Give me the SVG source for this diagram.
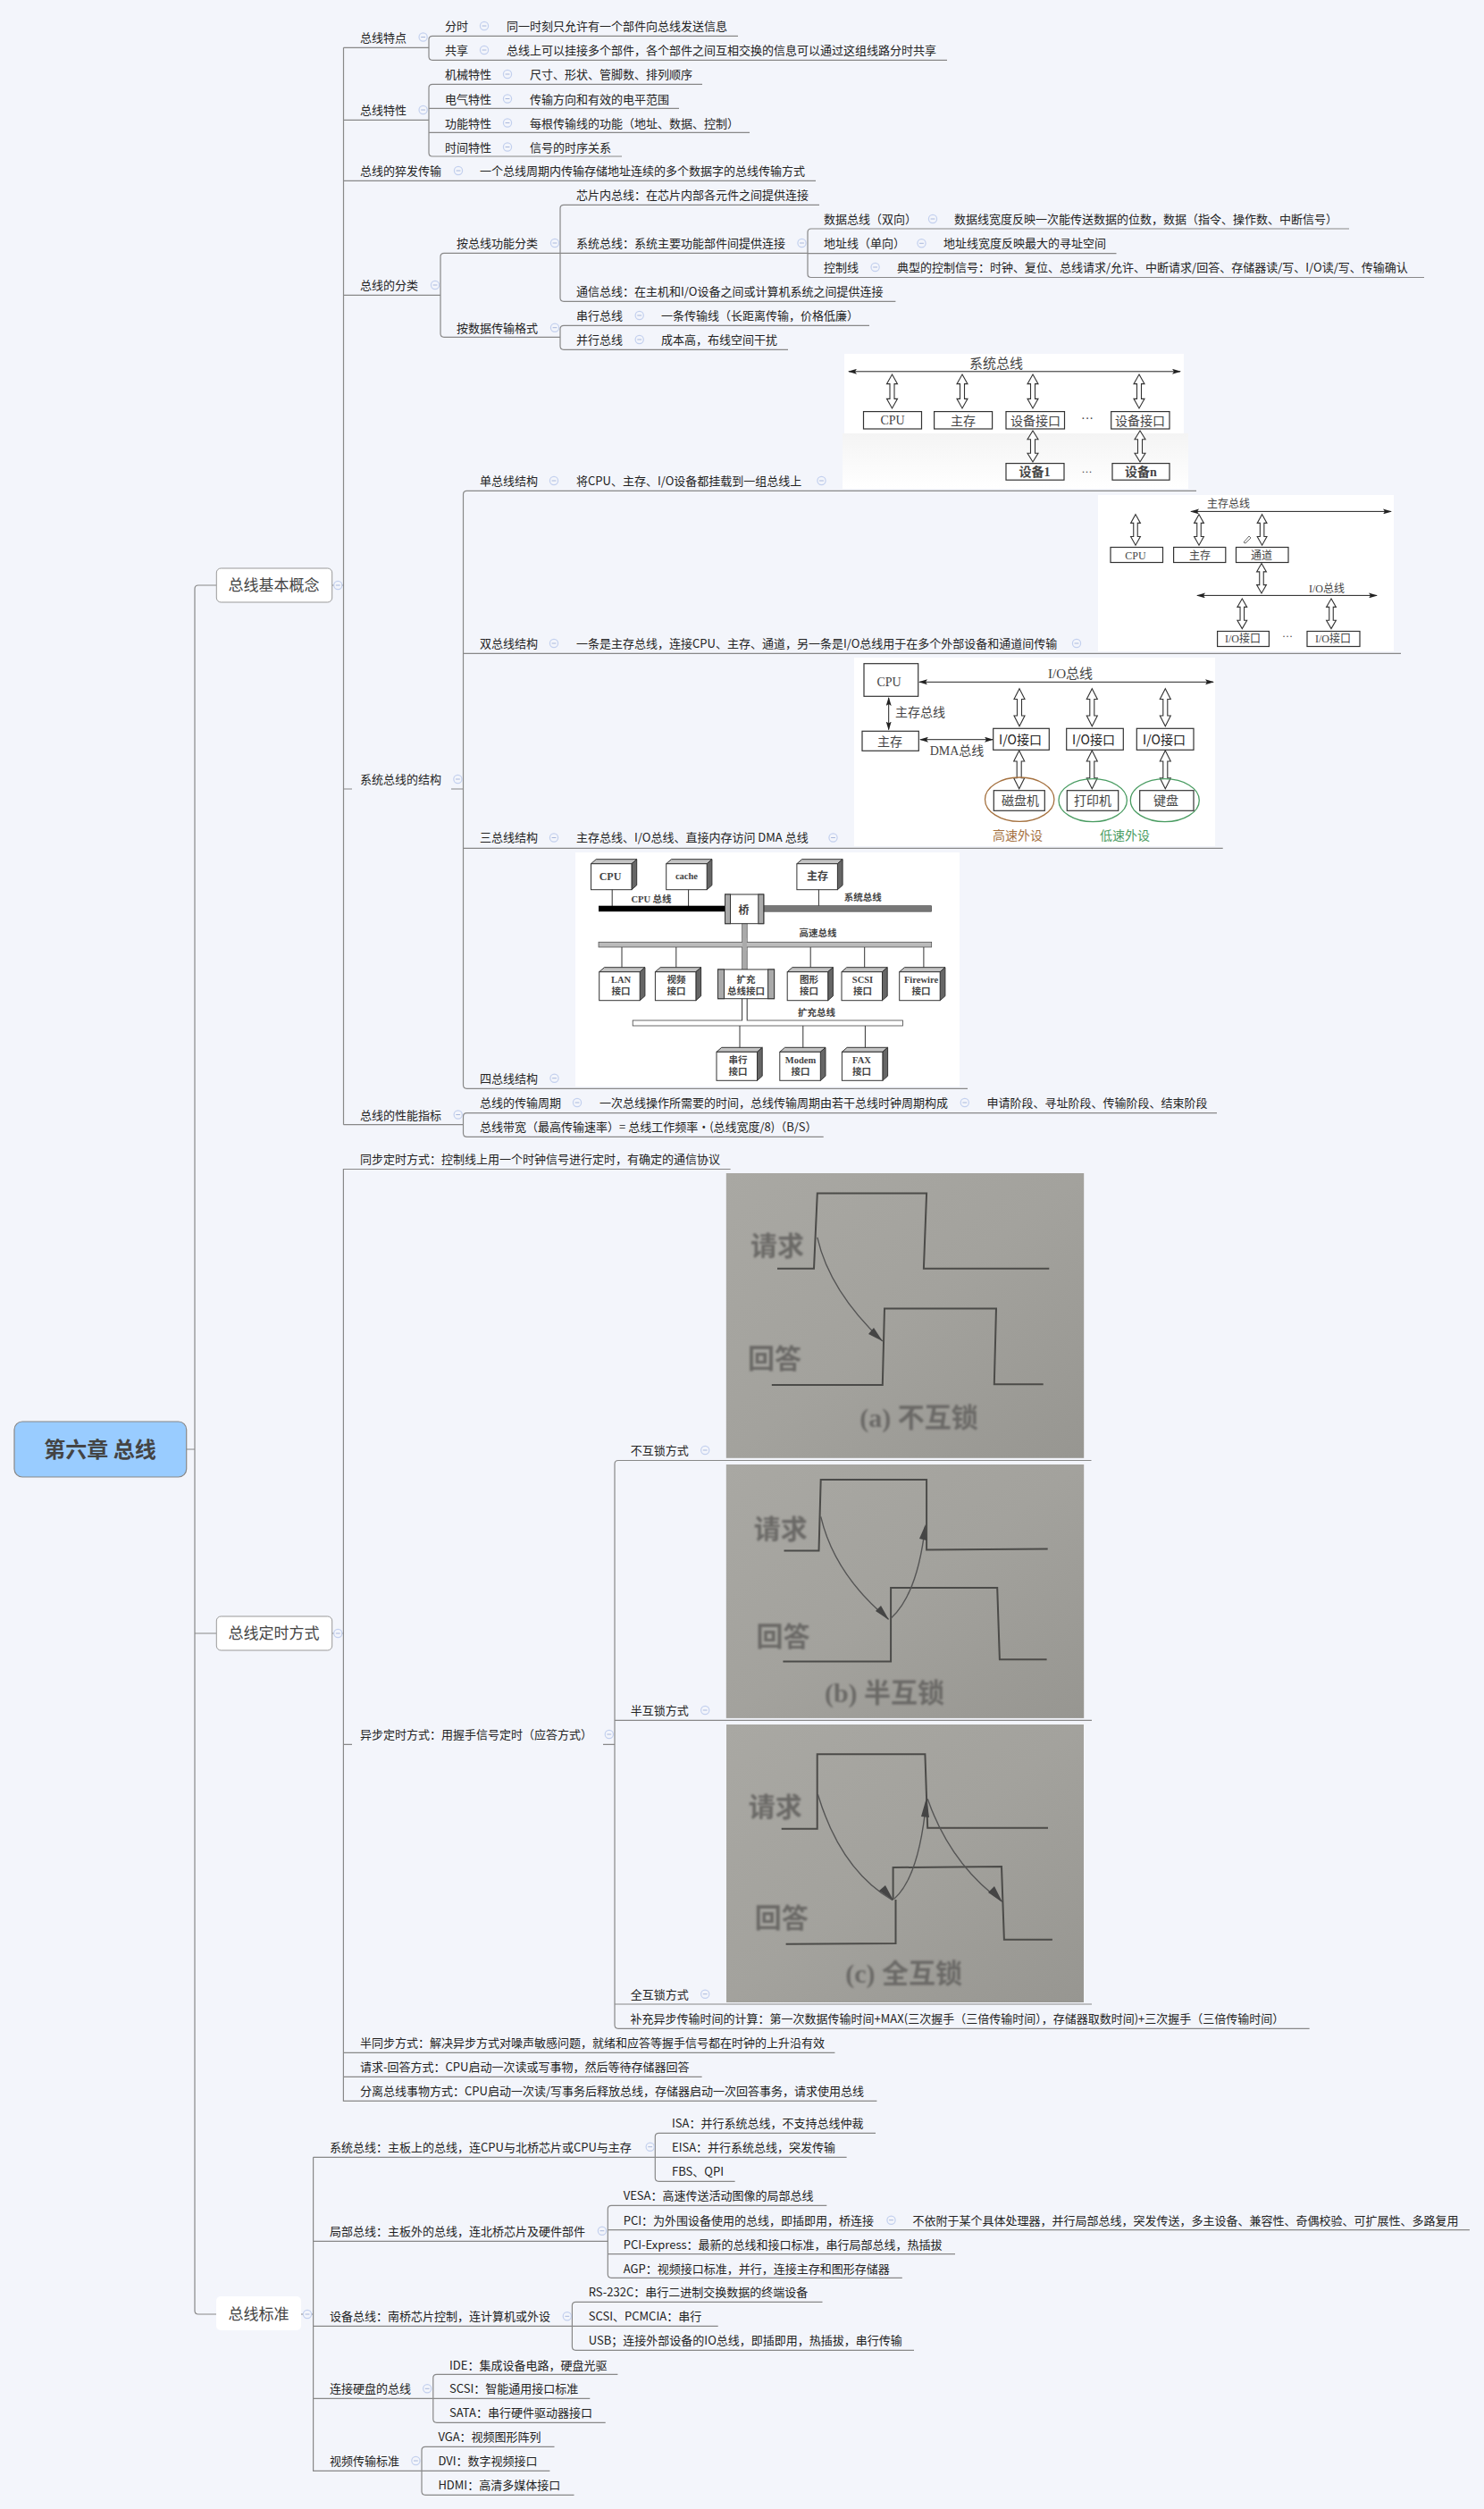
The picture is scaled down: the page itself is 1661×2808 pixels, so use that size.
<svg xmlns="http://www.w3.org/2000/svg" width="1661" height="2808" viewBox="0 0 1661 2808">
<style>
text{font-family:"Noto Sans CJK SC",sans-serif;font-size:13px;fill:#222}
.l1{font-size:17px;fill:#444;text-anchor:middle}
.root{font-size:24px;font-weight:700;fill:#444;text-anchor:middle}
.cn{fill:none;stroke:#888;stroke-width:1.2}
.box{fill:#fff;stroke:#999;stroke-width:1}
.ib{fill:#fff;stroke:#333;stroke-width:1.2}
.il{stroke:#222;stroke-width:1;fill:none}
.dbl{fill:#fff;stroke:#333;stroke-width:1.1;vector-effect:non-scaling-stroke}
.s{font-family:"Liberation Serif","Noto Sans CJK SC",serif;fill:#444;text-anchor:middle}
.s12{font-size:12px}.s14{font-size:14px}.s15{font-size:15px}.s10{font-size:10.5px;font-weight:700}
.ph{fill:none;stroke:#4c4b48;stroke-width:2}
.pc{fill:none;stroke:#555;stroke-width:1.4}
.pt{font-family:"Liberation Serif","Noto Sans CJK SC",serif;font-size:30px;fill:#6a6966;text-anchor:middle;font-weight:700}
.ah{fill:#444}
</style>
<defs>
<g id="col"><circle r="4.6" fill="#f3f5fb" stroke="#c3d0ee" stroke-width="1.2"/><path d="M-2.4 0H2.4" stroke="#a9b8dc" stroke-width="1"/></g>
<path id="dbl" class="dbl" d="M0,0L6,.28H2.5V.72H6L0,1L-6,.72H-2.5V.28H-6Z"/>
<marker id="ar" viewBox="0 0 10 6" refX="9" refY="3" markerWidth="10" markerHeight="6" orient="auto-start-reverse" markerUnits="userSpaceOnUse"><path d="M0 0L10 3L0 6L2 3Z" fill="#222"/></marker>
<g id="bx3a"><path d="M0 0L5.7-5H51.2L45.5 0Z" fill="#c4c4c4" stroke="#333"/><path d="M45.5 0L51.2-5V24L45.5 29Z" fill="#666" stroke="#333"/><rect width="45.5" height="29" fill="#fff" stroke="#333"/></g>
<g id="bx3b"><path d="M0 0L5.7-5H51.2L45.5 0Z" fill="#c4c4c4" stroke="#333"/><path d="M45.5 0L51.2-5V27L45.5 32Z" fill="#666" stroke="#333"/><rect width="45.5" height="32" fill="#fff" stroke="#333"/></g>
<linearGradient id="pg" x1="0" y1="0" x2="1" y2="1"><stop offset="0" stop-color="#a9a8a3"/><stop offset=".5" stop-color="#a3a29d"/><stop offset="1" stop-color="#979691"/></linearGradient>
<linearGradient id="lg" x1="0" y1="0" x2="0" y2="1"><stop offset="0" stop-color="#f4f4f4"/><stop offset="1" stop-color="#fff"/></linearGradient>
<filter id="b1" x="-5%" y="-5%" width="110%" height="110%"><feGaussianBlur stdDeviation=".8"/></filter>
<filter id="b0" x="-5%" y="-5%" width="110%" height="110%"><feGaussianBlur stdDeviation=".35"/></filter>
</defs>
<rect width="1661" height="2808" fill="#f3f5fb"/>

<g id="connectors" class="cn">
<path d="M208.7 1622H218M242 655H222Q218 655 218 659V2586Q218 2590 222 2590H242M218 1828H242"/>
<path d="M372 655H384.5M372 1828H384.5M337 2590H350.6"/>
<path d="M384.5 53.3V1258.7M384.5 53.3H480M384.5 134.3H480M384.5 202.3H913M384.5 330.3H493M384.5 883H394M505 883H518.5M384.5 1258.7H518.5"/>
<path d="M826 40.3H484Q480 40.3 480 44.3V63.3Q480 67.3 484 67.3H1060"/>
<path d="M786 94.3H484Q480 94.3 480 98.3V171Q480 175 484 175H696M480 121.3H760M480 148.3H839"/>
<path d="M627 283.3H497Q493 283.3 493 287.3V373.3Q493 377.3 497 377.3H627"/>
<path d="M917 229.3H631Q627 229.3 627 233.3V333.3Q627 337.3 631 337.3H1002.4M627 283.3H904"/>
<path d="M1510 256H908Q904 256 904 260V306.5Q904 310.5 908 310.5H1594M904 283.6H1249.5"/>
<path d="M973 364.3H631Q627 364.3 627 368.3V387.3Q627 391.3 631 391.3H882"/>
<path d="M1339 549.3H522.5Q518.5 549.3 518.5 553.3V1214.3Q518.5 1218.3 522.5 1218.3H1083M518.5 731.4H1568M518.5 949.3H1368.7"/>
<path d="M1362 1245.7H522.5Q518.5 1245.7 518.5 1249.7V1268.3Q518.5 1272.3 522.5 1272.3H921.7"/>
<path d="M817.6 1308.5H384.4V2351.3H981.4M384.4 1952.3H394M675 1952.3H688M384.4 2297.3H934.4M384.4 2324.3H785.6"/>
<path d="M1221.5 1634.5H692Q688 1634.5 688 1638.5V2266.3Q688 2270.3 692 2270.3H1465.6M688 1925.4H1222M688 2243H1222"/>
<path d="M350.6 2414.3V2765.3H472M350.6 2414.3H733.3M350.6 2508.3H680.3M350.6 2603.3H640.4M350.6 2684.3H484.8"/>
<path d="M980 2387.3H737.3Q733.3 2387.3 733.3 2391.3V2437.3Q733.3 2441.3 737.3 2441.3H822.6M733.3 2414.3H947.6"/>
<path d="M925.3 2468.3H684.3Q680.3 2468.3 680.3 2472.3V2545.3Q680.3 2549.3 684.3 2549.3H1009.8M680.3 2495.7H1644.9M680.3 2522.7H1069"/>
<path d="M920.5 2576.3H644.4Q640.4 2576.3 640.4 2580.3V2626.3Q640.4 2630.3 644.4 2630.3H1023M640.4 2603.3H803.7"/>
<path d="M691.4 2657.3H488.8Q484.8 2657.3 484.8 2661.3V2707.3Q484.8 2711.3 488.8 2711.3H677.7M484.8 2684.3H660.3"/>
<path d="M620.5 2738.3H476Q472 2738.3 472 2742.3V2788.3Q472 2792.3 476 2792.3H642.5M472 2765.3H615.4"/>
</g>

<g id="root"><rect x="16" y="1591" width="192.7" height="62" rx="9" fill="#99ccff" stroke="#888" stroke-width="1.2"/><text class="root" x="112" y="1630.5">第六章 总线</text></g>
<g id="n-basic"><rect class="box" x="242.3" y="636" width="129.4" height="38" rx="5"/><text class="l1" x="306.6" y="661">总线基本概念</text><use href="#col" x="378.3" y="655"/></g>
<g id="n-timing"><rect class="box" x="242.3" y="1809" width="129.4" height="38" rx="5"/><text class="l1" x="306.6" y="1834">总线定时方式</text><use href="#col" x="378.3" y="1828"/></g>
<g id="n-std"><rect x="242" y="2570" width="95" height="38" rx="5" fill="#fff"/><text class="l1" x="289.4" y="2596">总线标准</text><use href="#col" x="344" y="2590"/></g>

<g id="n-features"><text x="403" y="46.7">总线特点</text><use href="#col" x="473.6" y="41.5"/></g>
<g id="n-ts"><text x="498" y="34">分时</text><use href="#col" x="542" y="29"/><text x="567" y="34">同一时刻只允许有一个部件向总线发送信息</text></g>
<g id="n-share"><text x="498" y="61">共享</text><use href="#col" x="542" y="56"/><text x="567" y="61">总线上可以挂接多个部件，各个部件之间互相交换的信息可以通过这组线路分时共享</text></g>
<g id="n-props"><text x="403" y="128">总线特性</text><use href="#col" x="473.6" y="123"/></g>
<g id="n-mech"><text x="498" y="88">机械特性</text><use href="#col" x="568" y="83"/><text x="593" y="88">尺寸、形状、管脚数、排列顺序</text></g>
<g id="n-elec"><text x="498" y="115.5">电气特性</text><use href="#col" x="568" y="110.5"/><text x="593" y="115.5">传输方向和有效的电平范围</text></g>
<g id="n-func"><text x="498" y="142.5">功能特性</text><use href="#col" x="568" y="137.5"/><text x="593" y="142.5">每根传输线的功能（地址、数据、控制）</text></g>
<g id="n-time"><text x="498" y="169.5">时间特性</text><use href="#col" x="568" y="164.5"/><text x="593" y="169.5">信号的时序关系</text></g>
<g id="n-burst"><text x="403" y="196">总线的猝发传输</text><use href="#col" x="513" y="191"/><text x="537" y="196">一个总线周期内传输存储地址连续的多个数据字的总线传输方式</text></g>
<g id="n-class"><text x="403" y="324">总线的分类</text><use href="#col" x="487" y="319"/></g>
<g id="n-byfunc"><text x="511" y="277">按总线功能分类</text><use href="#col" x="621" y="272"/></g>
<g id="n-chip"><text x="645" y="223">芯片内总线：在芯片内部各元件之间提供连接</text></g>
<g id="n-sysb"><text x="645" y="277">系统总线：系统主要功能部件间提供连接</text><use href="#col" x="897.5" y="272"/></g>
<g id="n-data"><text x="922" y="250">数据总线（双向）</text><use href="#col" x="1044" y="245"/><text x="1068" y="250">数据线宽度反映一次能传送数据的位数，数据（指令、操作数、中断信号）</text></g>
<g id="n-addr"><text x="922" y="277.3">地址线（单向）</text><use href="#col" x="1031.5" y="272.3"/><text x="1056" y="277.3">地址线宽度反映最大的寻址空间</text></g>
<g id="n-ctrl"><text x="922" y="304">控制线</text><use href="#col" x="979.6" y="299"/><text x="1004" y="304">典型的控制信号：时钟、复位、总线请求/允许、中断请求/回答、存储器读/写、I/O读/写、传输确认</text></g>
<g id="n-comm"><text x="645" y="331">通信总线：在主机和I/O设备之间或计算机系统之间提供连接</text></g>
<g id="n-byfmt"><text x="511" y="371.7">按数据传输格式</text><use href="#col" x="621" y="366.7"/></g>
<g id="n-serial"><text x="645" y="358">串行总线</text><use href="#col" x="715.7" y="353"/><text x="740" y="358">一条传输线（长距离传输，价格低廉）</text></g>
<g id="n-par"><text x="645" y="385">并行总线</text><use href="#col" x="715.7" y="380"/><text x="740" y="385">成本高，布线空间干扰</text></g>
<g id="n-struct"><text x="403" y="877">系统总线的结构</text><use href="#col" x="512.4" y="872"/></g>

<g id="img-single">
<rect x="943" y="485" width="387" height="62" fill="url(#lg)"/><rect x="945" y="396" width="380" height="89" fill="#fff"/>
<path class="il" d="M950 415.8H1321" marker-start="url(#ar)" marker-end="url(#ar)"/>
<text class="s s15" x="1115" y="412">系统总线</text>
<use href="#dbl" transform="translate(998.5 419) scale(1 38)"/><use href="#dbl" transform="translate(1077 419) scale(1 38)"/><use href="#dbl" transform="translate(1156 419) scale(1 38)"/><use href="#dbl" transform="translate(1275 419) scale(1 38)"/>
<rect class="ib" x="966.5" y="460.6" width="65" height="19.4"/><text class="s s14" x="999" y="475">CPU</text>
<rect class="ib" x="1045.6" y="460.6" width="65" height="19.4"/><text class="s s14" x="1078" y="475.5">主存</text>
<rect class="ib" x="1126" y="460.6" width="65.5" height="19.4"/><text class="s s14" x="1159" y="475.5">设备接口</text>
<rect class="ib" x="1243.7" y="460.6" width="65.3" height="19.4"/><text class="s s14" x="1276" y="475.5">设备接口</text>
<text class="s s14" x="1217" y="473">···</text>
<use href="#dbl" transform="translate(1156 482) scale(1 35)"/><use href="#dbl" transform="translate(1276 482) scale(1 35)"/>
<rect class="ib" x="1126" y="518.6" width="65" height="18.6"/><text class="s s14" x="1158" y="533" font-weight="700">设备1</text>
<rect class="ib" x="1245" y="518.6" width="64" height="18.6"/><text class="s s14" x="1277" y="533" font-weight="700">设备n</text>
<text class="s s12" x="1216.5" y="532">···</text>
</g>
<g id="n-single"><text x="537" y="543">单总线结构</text><use href="#col" x="620" y="538"/><text x="645" y="543">将CPU、主存、I/O设备都挂载到一组总线上</text><use href="#col" x="919.5" y="538"/></g>

<g id="img-dual">
<rect x="1229" y="554" width="331" height="175" fill="#fff"/>
<path class="il" d="M1333 572.4H1557" marker-start="url(#ar)" marker-end="url(#ar)"/>
<text class="s s12" x="1375" y="568">主存总线</text>
<use href="#dbl" transform="translate(1271 575.7) scale(.9 34.5)"/><use href="#dbl" transform="translate(1342 575.7) scale(.9 34.5)"/><use href="#dbl" transform="translate(1412.6 575.7) scale(.9 34.5)"/>
<rect class="ib" x="1243" y="612.5" width="58.5" height="17"/><text class="s s12" x="1271" y="625.5">CPU</text>
<rect class="ib" x="1313.6" y="612.5" width="58.2" height="17"/><text class="s s12" x="1343" y="625.5">主存</text>
<rect class="ib" x="1383.5" y="612.5" width="58.5" height="17"/><text class="s s12" x="1412" y="625.5">通道</text>
<path d="M1392 607L1398 600L1400 602L1394 608Z" fill="#fff" stroke="#444" stroke-width=".8"/>
<use href="#dbl" transform="translate(1412 630.5) scale(.9 33.5)"/>
<path class="il" d="M1340 666.4H1541" marker-start="url(#ar)" marker-end="url(#ar)"/>
<text class="s s12" x="1485" y="663">I/O总线</text>
<use href="#dbl" transform="translate(1390.3 670) scale(.9 33.6)"/><use href="#dbl" transform="translate(1490 670) scale(.9 33.6)"/>
<rect class="ib" x="1362.6" y="706.5" width="57.8" height="17"/><text class="s s12" x="1391" y="719">I/O接口</text>
<rect class="ib" x="1463" y="706.5" width="59" height="17"/><text class="s s12" x="1492" y="719">I/O接口</text>
<text class="s s12" x="1441" y="716">···</text>
</g>
<g id="n-dual"><text x="537" y="725">双总线结构</text><use href="#col" x="620" y="720"/><text x="645" y="725">一条是主存总线，连接CPU、主存、通道，另一条是I/O总线用于在多个外部设备和通道间传输</text><use href="#col" x="1205" y="720"/></g>

<g id="img-triple">
<rect x="956" y="736" width="404" height="211" fill="#fff"/>
<rect class="ib" x="967" y="742.7" width="60.7" height="36.6"/><text class="s s14" x="995" y="767.5">CPU</text>
<path class="il" d="M1029 763.3H1358" marker-start="url(#ar)" marker-end="url(#ar)"/>
<text class="s s15" x="1198" y="759">I/O总线</text>
<path class="il" d="M994.7 781V816.5" marker-start="url(#ar)" marker-end="url(#ar)"/>
<text class="s s14" x="1030" y="802">主存总线</text>
<rect class="ib" x="965" y="818.3" width="63.3" height="22"/><text class="s s14" x="996" y="834.5">主存</text>
<path class="il" d="M1030 827.7H1111" marker-start="url(#ar)" marker-end="url(#ar)"/>
<text class="s s14" x="1071" y="845">DMA总线</text>
<rect class="ib" x="1111.7" y="815.3" width="62.6" height="24"/><text class="s s14" x="1142" y="832.5" style="font-family:'Noto Sans CJK SC',sans-serif;fill:#222">I/O接口</text>
<rect class="ib" x="1193.7" y="815.3" width="63.6" height="24"/><text class="s s14" x="1224" y="832.5" style="font-family:'Noto Sans CJK SC',sans-serif;fill:#222">I/O接口</text>
<rect class="ib" x="1272.3" y="815.3" width="63.7" height="24"/><text class="s s14" x="1303" y="832.5" style="font-family:'Noto Sans CJK SC',sans-serif;fill:#222">I/O接口</text>
<use href="#dbl" transform="translate(1141 770.7) scale(1 42)"/><use href="#dbl" transform="translate(1222.3 770.7) scale(1 42)"/><use href="#dbl" transform="translate(1304.3 770.7) scale(1 42)"/>
<use href="#dbl" transform="translate(1140.7 840) scale(1 42.7)"/><use href="#dbl" transform="translate(1222.3 840) scale(1 42.7)"/><use href="#dbl" transform="translate(1304.3 840) scale(1 42.7)"/>
<ellipse cx="1141.2" cy="894.7" rx="38.7" ry="24.7" fill="none" stroke="#a5713f" stroke-width="1.3"/>
<ellipse cx="1223.2" cy="895.7" rx="38.2" ry="24" fill="none" stroke="#4a9c62" stroke-width="1.3"/>
<ellipse cx="1303.8" cy="895.7" rx="38.5" ry="24" fill="none" stroke="#4a9c62" stroke-width="1.3"/>
<rect class="ib" x="1112.3" y="884.7" width="57" height="22.6"/><text class="s s14" x="1142" y="901">磁盘机</text>
<rect class="ib" x="1194.3" y="884.7" width="57.4" height="22.6"/><text class="s s14" x="1223" y="901">打印机</text>
<rect class="ib" x="1275.7" y="884.7" width="60.3" height="22.6"/><text class="s s14" x="1305" y="901">键盘</text>
<text class="s s14" x="1139" y="939.5" style="fill:#a5713f">高速外设</text>
<text class="s s14" x="1259" y="939.5" style="fill:#4a9c62">低速外设</text>
</g>
<g id="n-triple"><text x="537" y="942">三总线结构</text><use href="#col" x="620" y="937.5"/><text x="645" y="942">主存总线、I/O总线、直接内存访问 DMA 总线</text><use href="#col" x="932.5" y="937.5"/></g>

<g id="img-quad">
<rect x="644" y="954" width="430" height="262" fill="#fff"/>
<use href="#bx3a" x="661.5" y="966.7"/><use href="#bx3a" x="745.7" y="966.7"/><use href="#bx3a" x="891.9" y="966.7"/>
<text class="s s12" x="683" y="985" font-weight="700">CPU</text><text class="s s10" x="768.5" y="984">cache</text><text class="s s12" x="915" y="985" font-weight="700">主存</text>
<path d="M685.2 995.7V1014M770.6 995.7V1014M916.4 995.7V1014M696 1060V1083M756.8 1060V1083M907.2 1060V1083M967.7 1060V1083M1033.9 1060V1083M828 1148V1173M898.8 1148V1173M968.4 1148V1173" stroke="#333" fill="none"/>
<text class="s s10" x="729" y="1010">CPU 总线</text><text class="s s10" x="965.7" y="1008">系统总线</text><text class="s s10" x="915.6" y="1048">高速总线</text><text class="s s10" x="914" y="1137">扩充总线</text>
<rect x="670" y="1013.7" width="142" height="6.5" fill="#000"/>
<rect x="854.8" y="1013.7" width="187.9" height="6.5" fill="#777" stroke="#444" stroke-width=".6"/>
<rect x="830.6" y="1033.7" width="5.6" height="52" fill="#aaa" stroke="#444" stroke-width=".6"/>
<rect x="670" y="1054.3" width="372.7" height="5.7" fill="#bbb" stroke="#444" stroke-width=".7"/>
<rect x="830.9" y="1050" width="5" height="14" fill="#aaa"/>
<rect x="811.5" y="1001" width="43.3" height="32.7" fill="#fff" stroke="#333"/><rect x="811.5" y="1001" width="6" height="32.7" fill="#aaa" stroke="#333"/><rect x="848.8" y="1001" width="6" height="32.7" fill="#aaa" stroke="#333"/>
<text class="s s12" x="832.5" y="1023" font-weight="700">桥</text>
<use href="#bx3b" x="670.7" y="1087.7"/><use href="#bx3b" x="733.4" y="1087.7"/><use href="#bx3b" x="881.2" y="1087.7"/><use href="#bx3b" x="942" y="1087.7"/><use href="#bx3b" x="1006.7" y="1087.7"/>
<rect x="803.5" y="1085" width="63.1" height="32.7" fill="#fff" stroke="#333"/><rect x="803.5" y="1085" width="7" height="32.7" fill="#aaa" stroke="#333"/><rect x="859.6" y="1085" width="7" height="32.7" fill="#aaa" stroke="#333"/>
<path d="M830.6 1117.7V1142M836.2 1117.7V1142" stroke="#333"/>
<rect x="708.2" y="1142" width="302.3" height="6" fill="#fff" stroke="#444" stroke-width=".8"/><rect x="831.2" y="1141" width="4.4" height="2" fill="#fff"/>
<text class="s s10" x="695" y="1100">LAN</text><text class="s s10" x="695" y="1113">接口</text>
<text class="s s10" x="757" y="1100">视频</text><text class="s s10" x="757" y="1113">接口</text>
<text class="s s10" x="835" y="1100">扩充</text><text class="s s10" x="835" y="1113">总线接口</text>
<text class="s s10" x="905.5" y="1100">图形</text><text class="s s10" x="905.5" y="1113">接口</text>
<text class="s s10" x="965.5" y="1100">SCSI</text><text class="s s10" x="965.5" y="1113">接口</text>
<text class="s s10" x="1031" y="1100">Firewire</text><text class="s s10" x="1031" y="1113">接口</text>
<use href="#bx3b" x="802" y="1177.3"/><use href="#bx3b" x="872.8" y="1177.3"/><use href="#bx3b" x="942.4" y="1177.3"/>
<text class="s s10" x="826" y="1190">串行</text><text class="s s10" x="826" y="1203">接口</text>
<text class="s s10" x="896" y="1190">Modem</text><text class="s s10" x="896" y="1203">接口</text>
<text class="s s10" x="964.5" y="1190">FAX</text><text class="s s10" x="964.5" y="1203">接口</text>
</g>
<g id="n-quad"><text x="537" y="1211.7">四总线结构</text><use href="#col" x="620.5" y="1206.7"/></g>

<g id="n-perf"><text x="403" y="1252.7">总线的性能指标</text><use href="#col" x="512.7" y="1247.5"/></g>
<g id="n-cycle"><text x="537" y="1239">总线的传输周期</text><use href="#col" x="646" y="1234"/><text x="671" y="1239">一次总线操作所需要的时间，总线传输周期由若干总线时钟周期构成</text><use href="#col" x="1079.8" y="1234"/><text x="1104.5" y="1239">申请阶段、寻址阶段、传输阶段、结束阶段</text></g>
<g id="n-bw"><text x="537" y="1266.3">总线带宽（最高传输速率）= 总线工作频率·(总线宽度/8)（B/S）</text></g>

<g id="n-sync"><text x="403" y="1302.4">同步定时方式：控制线上用一个时钟信号进行定时，有确定的通信协议</text></g>
<g id="n-async"><text x="403" y="1946">异步定时方式：用握手信号定时（应答方式）</text><use href="#col" x="681.8" y="1941"/></g>

<g id="img-a">
<rect x="812.8" y="1313" width="400.4" height="318.8" fill="url(#pg)"/>
<g filter="url(#b0)">
<path class="ph" d="M870 1419.7H911L914.8 1335.4H1037.1L1033.9 1419.7H1174.3"/>
<path class="ph" d="M863.8 1550H987.8L990 1464.4H1115L1112.8 1549.2H1167.7"/>
<path class="pc" d="M914.8 1384.9Q928.5 1445 987.8 1501"/><path class="ah" d="M987.8 1501L972 1493L978 1486Z"/>
</g>
<g filter="url(#b1)"><text class="pt" x="869.9" y="1405">请求</text><text class="pt" x="867" y="1531">回答</text><text class="pt" x="1028.4" y="1597">(a) 不互锁</text></g>
</g>
<g id="n-noint"><text x="705.8" y="1628">不互锁方式</text><use href="#col" x="789.2" y="1623"/></g>

<g id="img-b">
<rect x="812.8" y="1639" width="400.4" height="283.9" fill="url(#pg)"/>
<g filter="url(#b0)">
<path class="ph" d="M877.5 1735.4H916.5L918.7 1655.9H1037.1V1734.5L1172.7 1733.6"/>
<path class="ph" d="M876.4 1859.5H997.1V1776.9H1116.2L1118.9 1857.2H1171.6"/>
<path class="pc" d="M918.7 1697.4Q934 1762 994.4 1812.1"/><path class="ah" d="M995 1813L980 1803L986 1797Z"/>
<path class="pc" d="M997.1 1811.3Q1027 1784 1035.5 1708.6"/><path class="ah" d="M1036 1706L1037 1724L1029 1722Z"/>
</g>
<g filter="url(#b1)"><text class="pt" x="873.7" y="1722">请求</text><text class="pt" x="876.4" y="1842">回答</text><text class="pt" x="990" y="1905">(b) 半互锁</text></g>
</g>
<g id="n-halfint"><text x="705.8" y="1919">半互锁方式</text><use href="#col" x="789.2" y="1914"/></g>

<g id="img-c">
<rect x="813" y="1930" width="400" height="311" fill="url(#pg)"/>
<g filter="url(#b0)">
<path class="ph" d="M874.7 2046.7H914.7V1963.3H1035.4L1038.2 2045.7H1173"/>
<path class="ph" d="M879.6 2175.7L1002.5 2175V2126M999.6 2126V2090L1121 2089L1123.9 2170.7H1177.9"/>
<path class="pc" d="M915.4 2008.3Q941 2093 999 2126.7"/><path class="ah" d="M1000 2127L984 2116L991 2110Z"/>
<path class="pc" d="M1001 2125Q1029 2100 1036.8 2015"/><path class="ah" d="M1037 2012L1040 2034L1031 2033Z"/>
<path class="pc" d="M1038.2 2013.3Q1064 2086.7 1121.8 2128.3"/><path class="ah" d="M1122 2129L1106 2118L1113 2111Z"/>
</g>
<g filter="url(#b1)"><text class="pt" x="867.7" y="2033">请求</text><text class="pt" x="874.7" y="2157">回答</text><text class="pt" x="1011.6" y="2219">(c) 全互锁</text></g>
</g>
<g id="n-fullint"><text x="705.8" y="2236.7">全互锁方式</text><use href="#col" x="789.2" y="2231.7"/></g>
<g id="n-calc"><text x="705.6" y="2264.3">补充异步传输时间的计算：第一次数据传输时间+MAX(三次握手（三倍传输时间），存储器取数时间)+三次握手（三倍传输时间）</text></g>
<g id="n-semi"><text x="403" y="2291.3">半同步方式：解决异步方式对噪声敏感问题，就绪和应答等握手信号都在时钟的上升沿有效</text></g>
<g id="n-req"><text x="403" y="2318.3">请求-回答方式：CPU启动一次读或写事物，然后等待存储器回答</text></g>
<g id="n-split"><text x="403" y="2345.3">分离总线事物方式：CPU启动一次读/写事务后释放总线，存储器启动一次回答事务，请求使用总线</text></g>

<g id="n-s1"><text x="369" y="2407.7">系统总线：主板上的总线，连CPU与北桥芯片或CPU与主存</text><use href="#col" x="727.7" y="2402.7"/></g>
<g id="n-isa"><text x="752" y="2381">ISA：并行系统总线，不支持总线仲裁</text></g>
<g id="n-eisa"><text x="752" y="2408">EISA：并行系统总线，突发传输</text></g>
<g id="n-fbs"><text x="752" y="2435">FBS、QPI</text></g>
<g id="n-s2"><text x="369" y="2502">局部总线：主板外的总线，连北桥芯片及硬件部件</text><use href="#col" x="673.9" y="2496.7"/></g>
<g id="n-vesa"><text x="697.7" y="2462.3">VESA：高速传送活动图像的局部总线</text></g>
<g id="n-pci"><text x="697.7" y="2489.7">PCI：为外围设备使用的总线，即插即用，桥连接</text><use href="#col" x="997.5" y="2484.7"/><text x="1021.4" y="2489.7">不依附于某个具体处理器，并行局部总线，突发传送，多主设备、兼容性、奇偶校验、可扩展性、多路复用</text></g>
<g id="n-pcie"><text x="697.7" y="2516.7">PCI-Express：最新的总线和接口标准，串行局部总线，热插拔</text></g>
<g id="n-agp"><text x="697.7" y="2543.7">AGP：视频接口标准，并行，连接主存和图形存储器</text></g>
<g id="n-s3"><text x="369" y="2597.3">设备总线：南桥芯片控制，连计算机或外设</text><use href="#col" x="634.8" y="2592.3"/></g>
<g id="n-rs"><text x="658.8" y="2570.3">RS-232C：串行二进制交换数据的终端设备</text></g>
<g id="n-pcm"><text x="658.8" y="2597.3">SCSI、PCMCIA：串行</text></g>
<g id="n-usb"><text x="658.8" y="2624.3">USB；连接外部设备的IO总线，即插即用，热插拔，串行传输</text></g>
<g id="n-s4"><text x="369" y="2678.3">连接硬盘的总线</text><use href="#col" x="478.2" y="2673.3"/></g>
<g id="n-ide"><text x="503" y="2651.7">IDE：集成设备电路，硬盘光驱</text></g>
<g id="n-scsi"><text x="503" y="2678.3">SCSI：智能通用接口标准</text></g>
<g id="n-sata"><text x="503" y="2705.3">SATA：串行硬件驱动器接口</text></g>
<g id="n-s5"><text x="369" y="2759">视频传输标准</text><use href="#col" x="465.4" y="2754"/></g>
<g id="n-vga"><text x="490.4" y="2732.3">VGA：视频图形阵列</text></g>
<g id="n-dvi"><text x="490.4" y="2759">DVI：数字视频接口</text></g>
<g id="n-hdmi"><text x="490.4" y="2786">HDMI：高清多媒体接口</text></g>
</svg>
